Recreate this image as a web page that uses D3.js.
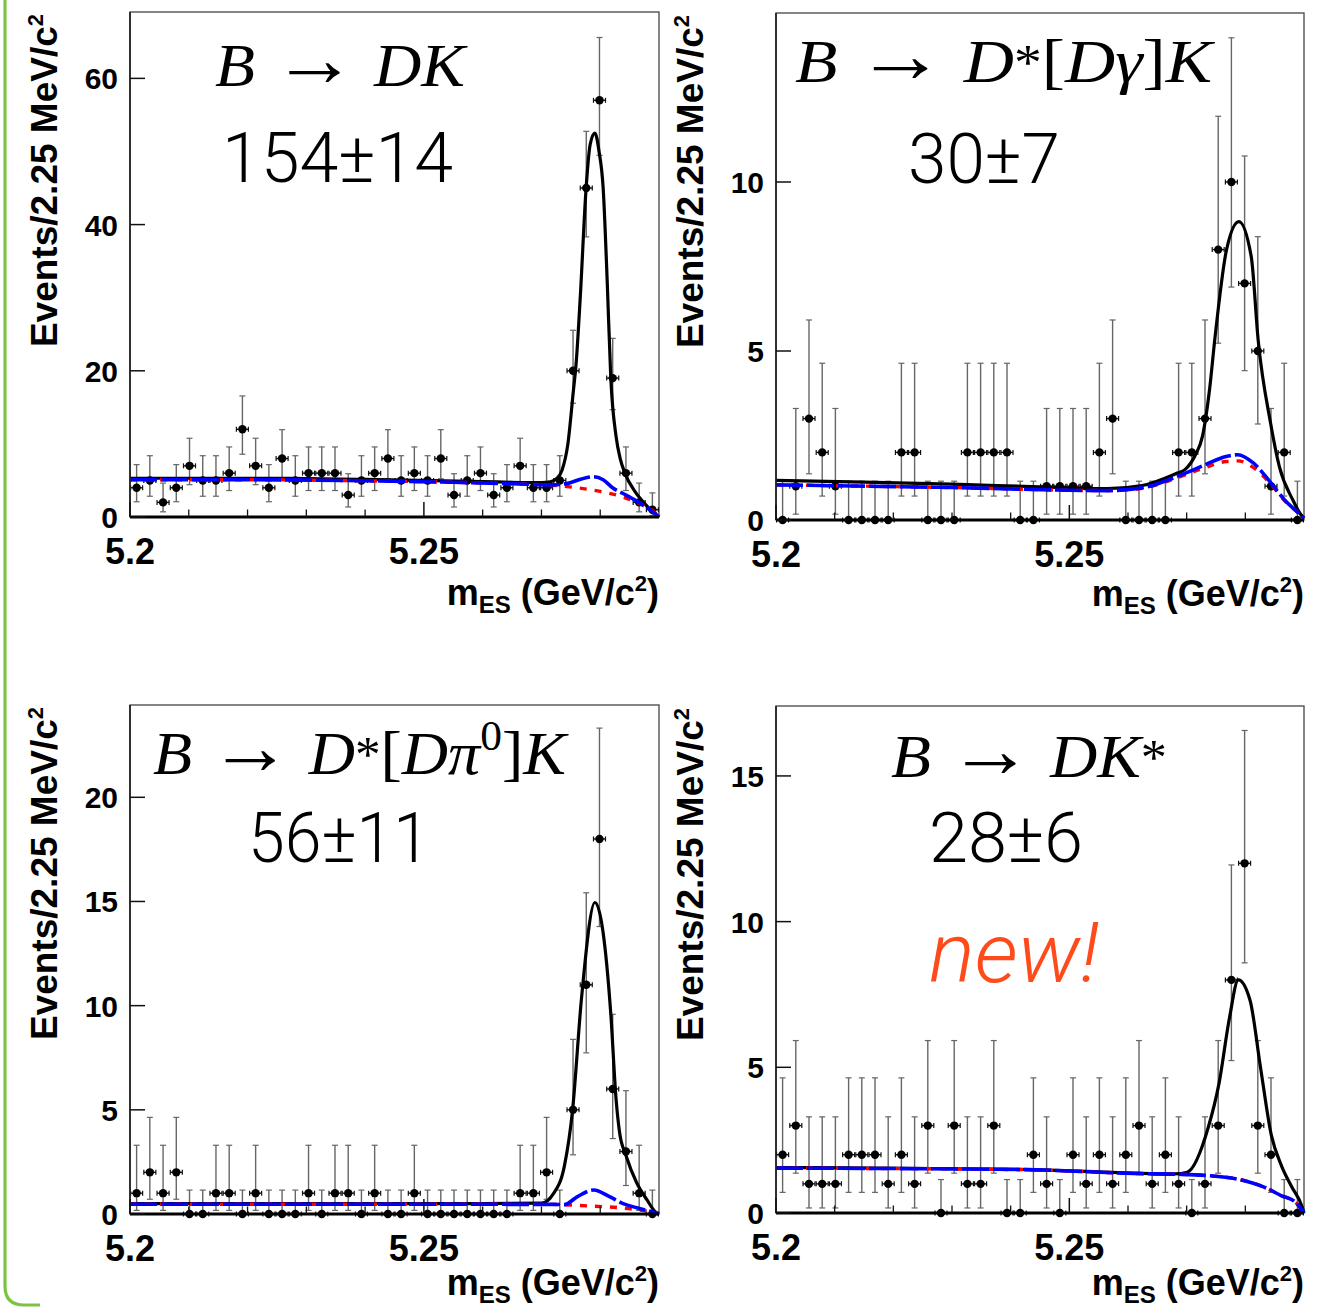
<!DOCTYPE html>
<html><head><meta charset="utf-8">
<script src="https://cdn.jsdelivr.net/npm/d3@7"></script>
<style>body{margin:0;background:#fff} svg{display:block}</style>
</head><body>
<svg id="c" width="1322" height="1307"></svg>
<script>
// ---------------- DATA ----------------
const massRange = [5.2, 5.29];
const binWidth = 0.00225;
const xTickValues = [5.2, 5.25];
const xTickLabels = ["5.2", "5.25"];
const xMinorTickValues = [5.21, 5.22, 5.23, 5.24, 5.26, 5.27, 5.28];

const yieldLabels = ["154±14", "30±7", "56±11", "28±6"];
const newLabel = "new!";

const yTicksDK = [0, 20, 40, 60];
const yTicksDstarDg = [0, 5, 10];
const yTicksDstarDpi0 = [0, 5, 10, 15, 20];
const yTicksDKstar = [0, 5, 10, 15];

// events per 2.25 MeV bin, 40 bins from 5.200 to 5.290 GeV/c2
const countsDK = [4,5,2,4,7,5,5,6,12,7,4,8,5,6,6,6,3,5,6,8,5,6,5,8,3,5,6,3,4,7,4,4,5,20,45,57,19,6,2,1];
const countsDstarDg = [0,1,3,2,1,0,0,0,0,2,2,0,0,0,2,2,2,2,0,0,1,1,1,1,2,3,0,0,0,0,2,2,3,8,10,7,5,1,2,0];
const countsDstarDpi0 = [1,2,1,2,0,0,1,1,0,1,0,0,0,1,0,1,1,0,1,0,0,1,0,0,0,0,0,0,0,1,1,2,0,5,11,18,6,3,1,0];
const countsDKstar = [2,3,1,1,1,2,2,2,1,2,1,3,0,3,1,1,3,0,0,2,1,0,2,1,2,1,2,3,1,2,1,0,1,3,8,12,3,2,0,0];

// fit curves (mES, events/bin)
const dkTotalX = [5.200,5.210,5.220,5.230,5.240,5.250,5.260,5.265,5.270,5.2715,5.2725,5.2735,5.2745,5.2754,5.2759,5.2766,5.2776,5.2783,5.2791,5.2798,5.2805,5.2812,5.2818,5.2827,5.2834,5.2842,5.2859,5.2876,5.2888,5.2900];
const dkTotalY = [5.3,5.3,5.3,5.25,5.15,5.0,4.85,4.75,4.7,4.8,5.2,6.4,10,17,21,30,45,51,52.5,50,45,32,19,11,8,6,3.5,1.8,0.8,0];
const dkPeakBkgX = [5.200,5.220,5.240,5.255,5.265,5.272,5.2745,5.2768,5.2789,5.2805,5.2821,5.2844,5.2868,5.2888,5.2900];
const dkPeakBkgY = [5.1,5.1,4.95,4.75,4.55,4.4,4.6,5.2,5.5,5.1,4.0,3.0,1.9,0.8,0];
const dkCombX = [5.200,5.220,5.240,5.255,5.265,5.272,5.276,5.280,5.284,5.287,5.289,5.290];
const dkCombY = [5.1,5.1,4.95,4.75,4.55,4.35,4.0,3.5,2.7,1.7,0.8,0];

const dgTotalX = [5.200,5.215,5.230,5.245,5.2565,5.2624,5.2684,5.2697,5.2715,5.2727,5.2739,5.2748,5.2768,5.2789,5.2810,5.2822,5.2843,5.2858,5.2881,5.2893,5.2900];
const dgTotalY = [1.17,1.12,1.06,0.98,0.93,1.02,1.39,1.49,1.93,2.48,3.86,5.35,8.0,8.83,7.8,5.3,2.87,1.58,0.59,0.2,0.05];
const dgPeakBkgX = [5.200,5.230,5.2565,5.2624,5.2684,5.2731,5.2767,5.2787,5.2814,5.2844,5.2867,5.2891,5.2900];
const dgPeakBkgY = [1.04,0.96,0.87,0.95,1.29,1.63,1.88,1.93,1.68,1.09,0.59,0.2,0.05];
const dgCombX = [5.200,5.230,5.2565,5.2624,5.2684,5.2731,5.2767,5.2787,5.2814,5.2844,5.2867,5.2891,5.2900];
const dgCombY = [1.04,0.96,0.87,0.94,1.25,1.55,1.73,1.75,1.55,1.05,0.57,0.2,0.05];

const dpTotalX = [5.200,5.230,5.260,5.270,5.2721,5.2739,5.2753,5.2768,5.2791,5.2818,5.2827,5.2833,5.2844,5.2862,5.2879,5.2896,5.2900];
const dpTotalY = [0.5,0.5,0.5,0.52,1.0,2.3,5.0,10.3,14.95,9.6,5.5,3.9,2.8,1.5,0.7,0.05,0];
const dpPeakBkgX = [5.200,5.240,5.272,5.2739,5.2762,5.2789,5.2815,5.2839,5.2862,5.2885,5.2900];
const dpPeakBkgY = [0.47,0.47,0.46,0.45,0.85,1.15,0.85,0.5,0.3,0.13,0];
const dpCombX = [5.200,5.240,5.272,5.2757,5.2791,5.2833,5.2875,5.2895,5.2900];
const dpCombY = [0.47,0.47,0.46,0.42,0.37,0.3,0.16,0.05,0];

const ksTotalX = [5.200,5.2417,5.2624,5.2680,5.2701,5.2737,5.2755,5.2773,5.2788,5.2808,5.2826,5.2844,5.2862,5.2879,5.2897,5.2900];
const ksTotalY = [1.56,1.5,1.36,1.34,1.4,2.95,4.43,6.7,8.0,7.3,4.98,2.7,1.6,0.9,0.2,0];
const ksBkgX = [5.200,5.2417,5.2624,5.2684,5.2731,5.2790,5.2832,5.2861,5.2885,5.2900];
const ksBkgY = [1.54,1.49,1.35,1.33,1.29,1.15,0.89,0.6,0.38,0];

// ---------------- LAYOUT ----------------
const panels = [
  {counts: countsDK, yTicks: yTicksDK, yMax: 69.08, box: {l:130, t:12, r:659, b:517}, xtDy: 88,
   total: [dkTotalX, dkTotalY], peak: [dkPeakBkgX, dkPeakBkgY], comb: [dkCombX, dkCombY],
   title: {x:215, y:86, w:250, size:62}, yieldPos: {x:222, y:182, w:231},
   parts: [["B","i"],["\u2009→\u2009","arrow"],["DK","i"]]},
  {counts: countsDstarDg, yTicks: yTicksDstarDg, yMax: 15.0, box: {l:776, t:13, r:1304, b:520}, xtDy: 86,
   total: [dgTotalX, dgTotalY], peak: [dgPeakBkgX, dgPeakBkgY], comb: [dgCombX, dgCombY],
   title: {x:795, y:82, w:417, size:62}, yieldPos: {x:908, y:183, w:152},
   parts: [["B","i"],["\u2009→\u2009","arrow"],["D","i"],["*","star"],["[","r"],["Dγ","i"],["]","r"],["K","i"]]},
  {counts: countsDstarDpi0, yTicks: yTicksDstarDpi0, yMax: 24.43, box: {l:130, t:705, r:659, b:1214}, xtDy: 81,
   total: [dpTotalX, dpTotalY], peak: [dpPeakBkgX, dpPeakBkgY], comb: [dpCombX, dpCombY],
   title: {x:153, y:774, w:413, size:62}, yieldPos: {x:248, y:862, w:182},
   parts: [["B","i"],["\u2009→\u2009","arrow"],["D","i"],["*","star"],["[","r"],["Dπ","i"],["0","sup"],["]","r"],["K","i"]]},
  {counts: countsDKstar, yTicks: yTicksDKstar, yMax: 17.4, box: {l:776, t:706, r:1304, b:1213}, xtDy: 82,
   total: [ksTotalX, ksTotalY], peak: [ksBkgX, ksBkgY], comb: [ksBkgX, ksBkgY],
   title: {x:891, y:777, w:276, size:62}, yieldPos: {x:929, y:862, w:154},
   parts: [["B","i"],["\u2009→\u2009","arrow"],["DK","i"],["*","star"]], extra: true}
];

// ---------------- HELPERS ----------------
function poisCdf(n, mu) {
  let term = Math.exp(-mu), sum = term;
  for (let k = 1; k <= n; k++) { term *= mu / k; sum += term; }
  return sum;
}
function solveDecreasing(f, target, lo, hi) {
  for (let i = 0; i < 80; i++) { const m = (lo + hi) / 2; if (f(m) > target) lo = m; else hi = m; }
  return (lo + hi) / 2;
}
function poissonInterval(n) {
  const a = 0.158655;
  if (n === 0) return [0, -Math.log(1 - 0.682689)];
  const up = solveDecreasing(mu => poisCdf(n, mu), a, n, n + 10 * Math.sqrt(n) + 10);
  const lo = solveDecreasing(mu => poisCdf(n - 1, mu), 1 - a, 0, n);
  return [lo, up];
}

const svg = d3.select("#c");
const defs = svg.append("defs");

// green slide border
svg.append("path")
  .attr("d", "M5,-10 L5,1286 Q5,1305 24,1305 L40,1305")
  .attr("fill", "none").attr("stroke", "#7cc243").attr("stroke-width", 3.2);

const boldFont = "'Liberation Sans', Arial, Helvetica, sans-serif";

panels.forEach((p, pi) => {
  const b = p.box;
  const x = d3.scaleLinear().domain(massRange).range([b.l, b.r]);
  const y = d3.scaleLinear().domain([0, p.yMax]).range([b.b, b.t]);
  const g = svg.append("g");

  const clipId = "clip" + pi;
  defs.append("clipPath").attr("id", clipId).append("rect")
    .attr("x", b.l).attr("y", b.t - 2).attr("width", b.r - b.l + 2).attr("height", b.b - b.t + 4);

  // frame
  g.append("rect").attr("x", b.l).attr("y", b.t).attr("width", b.r - b.l).attr("height", b.b - b.t)
    .attr("fill", "none").attr("stroke", "#444").attr("stroke-width", 1.3);

  // data points
  const dg = g.append("g");
  p.counts.forEach((n, i) => {
    const xc = massRange[0] + (i + 0.5) * binWidth;
    const [lo, hi] = poissonInterval(n);
    const px = x(xc);
    dg.append("line").attr("x1", px).attr("x2", px).attr("y1", y(lo)).attr("y2", y(hi))
      .attr("stroke", "#666").attr("stroke-width", 1.4);
    [lo, hi].forEach(v => {
      dg.append("line").attr("x1", px - 3).attr("x2", px + 3).attr("y1", y(v)).attr("y2", y(v))
        .attr("stroke", "#666").attr("stroke-width", 1.2);
    });
    const xl = x(xc - binWidth / 2) + 0.6, xr = x(xc + binWidth / 2) - 0.6;
    dg.append("line").attr("x1", xl).attr("x2", xr).attr("y1", y(n)).attr("y2", y(n))
      .attr("stroke", "#111").attr("stroke-width", 1.4);
    [xl, xr].forEach(xx => {
      dg.append("line").attr("x1", xx).attr("x2", xx).attr("y1", y(n) - 2.5).attr("y2", y(n) + 2.5)
        .attr("stroke", "#111").attr("stroke-width", 1.2);
    });
    dg.append("circle").attr("cx", px).attr("cy", y(n)).attr("r", 4.2).attr("fill", "#000");
  });

  // curves
  const line = d3.line().x(d => x(d[0])).y(d => y(d[1])).curve(d3.curveMonotoneX);
  const cg = g.append("g").attr("clip-path", `url(#${clipId})`);
  const toPts = arr => arr[0].map((v, i) => [v, arr[1][i]]);
  cg.append("path").attr("d", line(toPts(p.total))).attr("fill", "none")
    .attr("stroke", "#000").attr("stroke-width", 3.2);
  cg.append("path").attr("d", line(toPts(p.comb))).attr("fill", "none")
    .attr("stroke", "#ff0000").attr("stroke-width", 3.4).attr("stroke-dasharray", "7,8");
  cg.append("path").attr("d", line(toPts(p.peak))).attr("fill", "none")
    .attr("stroke", "#0000ff").attr("stroke-width", 3.6).attr("stroke-dasharray", "27,4");

  // axes lines
  g.append("line").attr("x1", b.l).attr("x2", b.r).attr("y1", b.b).attr("y2", b.b)
    .attr("stroke", "#000").attr("stroke-width", 2.8);
  g.append("line").attr("x1", b.l).attr("x2", b.l).attr("y1", b.t).attr("y2", b.b)
    .attr("stroke", "#222").attr("stroke-width", 1.7);

  // x ticks
  xTickValues.forEach((v, i) => {
    g.append("line").attr("x1", x(v)).attr("x2", x(v)).attr("y1", b.b).attr("y2", b.b - 15)
      .attr("stroke", "#111").attr("stroke-width", 1.5);
    g.append("text").attr("x", x(v)).attr("y", b.b + 47).attr("text-anchor", "middle")
      .attr("font-family", boldFont).attr("font-weight", "bold").attr("font-size", 36)
      .text(xTickLabels[i]);
  });
  xMinorTickValues.forEach(v => {
    g.append("line").attr("x1", x(v)).attr("x2", x(v)).attr("y1", b.b).attr("y2", b.b - 7.5)
      .attr("stroke", "#111").attr("stroke-width", 1.3);
  });

  // y ticks
  p.yTicks.forEach(v => {
    g.append("line").attr("x1", b.l).attr("x2", b.l + 15).attr("y1", y(v)).attr("y2", y(v))
      .attr("stroke", "#111").attr("stroke-width", 1.5);
    g.append("text").attr("x", b.l - 12).attr("y", y(v) + 11).attr("text-anchor", "end")
      .attr("font-family", boldFont).attr("font-weight", "bold").attr("font-size", 30)
      .text(String(v));
  });

  // x title: m_ES (GeV/c^2)
  const xt = g.append("text").attr("x", b.r).attr("y", b.b + p.xtDy).attr("text-anchor", "end")
    .attr("font-family", boldFont).attr("font-weight", "bold").attr("font-size", 36);
  xt.append("tspan").text("m");
  xt.append("tspan").attr("font-size", 24).attr("dy", 8).text("ES");
  xt.append("tspan").attr("dy", -8).text(" (GeV/c");
  xt.append("tspan").attr("font-size", 22).attr("dy", -14).text("2");
  xt.append("tspan").attr("dy", 14).text(")");

  // y title
  const yt = g.append("text")
    .attr("transform", `translate(${b.l - 73},${b.t + 2}) rotate(-90)`)
    .attr("text-anchor", "end")
    .attr("font-family", boldFont).attr("font-weight", "bold").attr("font-size", 37);
  yt.append("tspan").text("Events/2.25 MeV/c");
  yt.append("tspan").attr("font-size", 22).attr("dy", -14).text("2");

  // channel label (math style)
  const tt = g.append("text").attr("x", p.title.x).attr("y", p.title.y)
    .attr("font-family", "'Liberation Serif', 'Times New Roman', serif")
    .attr("font-size", p.title.size)
    .attr("textLength", p.title.w).attr("lengthAdjust", "spacingAndGlyphs");
  let shift = 0;
  p.parts.forEach(([t, s]) => {
    const ts = tt.append("tspan").text(t);
    let target = 0;
    if (s === "i") ts.attr("font-style", "italic");
    if (s === "arrow") ts.attr("font-size", p.title.size * 1.3);
    if (s === "sup") { ts.attr("font-size", p.title.size * 0.68); target = -24; }
    if (s === "star") { ts.attr("font-size", p.title.size * 0.8); target = -3; }
    if (target !== shift) { ts.attr("dy", target - shift); shift = target; }
  });

  // yield
  g.append("text").attr("x", p.yieldPos.x).attr("y", p.yieldPos.y)
    .attr("font-family", "Roboto, 'Open Sans', sans-serif").attr("font-weight", 300)
    .attr("font-size", 70).attr("textLength", p.yieldPos.w).attr("lengthAdjust", "spacingAndGlyphs")
    .text(yieldLabels[pi]);

  if (p.extra) {
    g.append("text").attr("x", 929).attr("y", 982)
      .attr("font-family", "Roboto, 'Open Sans', sans-serif").attr("font-weight", 300)
      .attr("font-style", "italic").attr("font-size", 84).attr("fill", "#ff4a1c")
      .attr("textLength", 170).attr("lengthAdjust", "spacingAndGlyphs")
      .text(newLabel);
  }
});
</script>
</body></html>
